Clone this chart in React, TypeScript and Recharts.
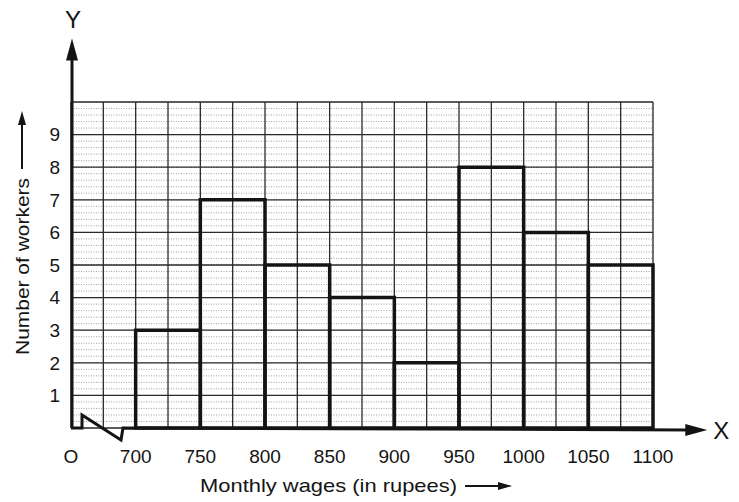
import React from 'react';
import { ComposedChart, XAxis, YAxis, CartesianGrid, ReferenceArea, ReferenceLine } from 'recharts';

// class intervals (monthly wages, rupees) and number of workers
const binStarts = [700, 750, 800, 850, 900, 950, 1000, 1050];
const binEnds = [750, 800, 850, 900, 950, 1000, 1050, 1100];
const workers = [3, 7, 5, 4, 2, 8, 6, 5];

const xGridTicks = [650, 675, 700, 725, 750, 775, 800, 825, 850, 875, 900, 925, 950, 975, 1000, 1025, 1050, 1075, 1100];
const xLabelled = [650, 700, 750, 800, 850, 900, 950, 1000, 1050, 1100];
const yGridTicks = [0, 1, 2, 3, 4, 5, 6, 7, 8, 9, 10];
const yLabelled = [1, 2, 3, 4, 5, 6, 7, 8, 9];

// graph-paper subdivisions (5 per major square)
const xMinorTicks = Array.from({ length: 91 }, (_, i) => 650 + i * 5);
const yMinorTicks = Array.from({ length: 51 }, (_, i) => Math.round(i * 2) / 10);

const bins = binStarts.map((s, i) => ({ from: s, to: binEnds[i], count: workers[i] }));

const FONT = '"Liberation Sans", Arial, sans-serif';
const INK = '#141414';

const XAxisArrow = (props: any) => {
  const { x1, y1, x2 } = props;
  return (
    <g>
      {/* axis with the break mark near the origin */}
      <path
        d={`M${x1} ${y1} L${x1 + 11} ${y1} L${x1 + 11} ${y1 - 13} L${x1 + 50} ${y1 + 12} L${x1 + 52} ${y1} L${x2 - 16} ${y1 + 2}`}
        stroke={INK}
        strokeWidth={3}
        fill="none"
      />
      <polygon points={`${x2},${y1 + 2} ${x2 - 22},${y1 - 4} ${x2 - 22},${y1 + 8}`} fill={INK} />
      <text x={x2 + 6} y={y1 + 11} fontFamily={FONT} fontSize={24} fill={INK}>X</text>
    </g>
  );
};

const YAxisArrow = (props: any) => {
  const { x1, y1, y2 } = props;
  return (
    <g>
      <line x1={x1 + 1} y1={y1} x2={x1 + 1} y2={y2 + 16} stroke={INK} strokeWidth={3} />
      <polygon points={`${x1 + 1},${y2} ${x1 - 5},${y2 + 22} ${x1 + 7},${y2 + 22}`} fill={INK} />
      <text x={x1 + 2} y={y2 - 10} textAnchor="middle" fontFamily={FONT} fontSize={24} fill={INK}>Y</text>
    </g>
  );
};

const XTitle = (props: any) => {
  const { x, y } = props.viewBox;
  const tx = x + 129;
  const ty = y + 57;
  return (
    <g>
      <text x={tx} y={ty} dominantBaseline="central" fontFamily={FONT} fontSize={19} fill={INK}
        textLength={257} lengthAdjust="spacingAndGlyphs">
        Monthly wages (in rupees)
      </text>
      <line x1={tx + 265} y1={ty + 1} x2={tx + 300} y2={ty + 1} stroke={INK} strokeWidth={2} />
      <polygon points={`${tx + 312},${ty + 1} ${tx + 298},${ty - 3} ${tx + 298},${ty + 5}`} fill={INK} />
    </g>
  );
};

const YTitle = (props: any) => {
  const { y, height } = props.viewBox;
  const base = y + height - 73;
  return (
    <g transform={`translate(22, ${base}) rotate(-90)`}>
      <text x={0} y={0} dominantBaseline="central" fontFamily={FONT} fontSize={19} fill={INK}
        textLength={177} lengthAdjust="spacingAndGlyphs">
        Number of workers
      </text>
      <line x1={186} y1={0} x2={232} y2={0} stroke={INK} strokeWidth={2} />
      <polygon points={`244,0 230,-4 230,4`} fill={INK} />
    </g>
  );
};

const tickStyle = { fontFamily: FONT, fontSize: 19, fill: INK };

export default function App() {
  return (
    <div style={{ position: 'absolute', left: 0, top: 0, width: 739, height: 502, background: '#fff' }}>
      <ComposedChart
        width={739}
        height={502}
        data={bins}
        margin={{ top: 102, right: 86, bottom: 34, left: 0 }}
      >
        <XAxis xAxisId="minor" type="number" domain={[650, 1100]} ticks={xMinorTicks} interval={0} allowDataOverflow hide />
        <YAxis yAxisId="minor" type="number" domain={[0, 10]} ticks={yMinorTicks} interval={0} allowDataOverflow hide />
        <CartesianGrid xAxisId="minor" yAxisId="minor" stroke="#8a8a8a" strokeWidth={0.8} strokeDasharray="1 1.5" />

        <XAxis
          type="number"
          dataKey="from"
          domain={[650, 1100]}
          ticks={xGridTicks}
          allowDataOverflow
          height={40}
          axisLine={false}
          tickLine={false}
          tickSize={0}
          tickMargin={22}
          tick={tickStyle}
          interval={0}
          tickFormatter={(v: number) => (xLabelled.includes(v) ? (v === 650 ? 'O' : String(v)) : '')}
          label={(p: any) => <XTitle {...p} />}
        />
        <YAxis
          type="number"
          domain={[0, 10]}
          ticks={yGridTicks}
          allowDataOverflow
          width={71}
          axisLine={false}
          tickLine={false}
          tickSize={0}
          tickMargin={11}
          tick={tickStyle}
          interval={0}
          tickFormatter={(v: number) => (yLabelled.includes(v) ? String(v) : '')}
          label={(p: any) => <YTitle {...p} />}
        />
        <CartesianGrid stroke="#2b2b2b" strokeWidth={1.3} />

        {bins.map((b) => (
          <ReferenceArea
            key={b.from}
            x1={b.from}
            x2={b.to}
            y1={0}
            y2={b.count}
            fill="none"
            fillOpacity={0}
            stroke={INK}
            strokeWidth={3.5}
            ifOverflow="visible"
          />
        ))}

        <ReferenceLine
          segment={[{ x: 650, y: 0 }, { x: 650, y: 11.95 }]}
          ifOverflow="visible"
          shape={(p: any) => <YAxisArrow {...p} />}
        />
        <ReferenceLine
          segment={[{ x: 650, y: 0 }, { x: 1142, y: 0 }]}
          ifOverflow="visible"
          shape={(p: any) => <XAxisArrow {...p} />}
        />
      </ComposedChart>
    </div>
  );
}
